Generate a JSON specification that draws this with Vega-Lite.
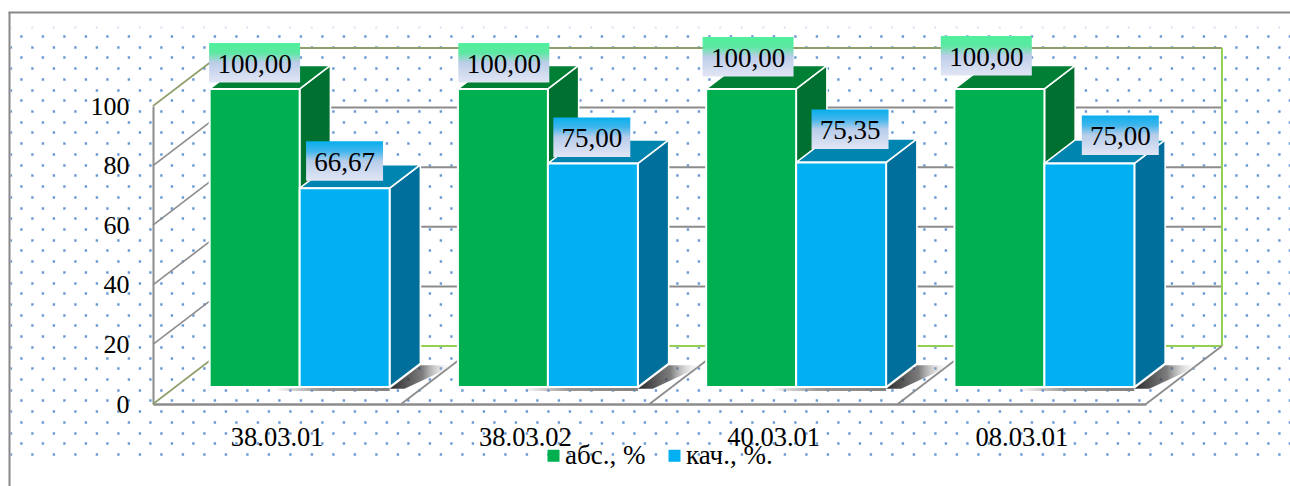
{
"$schema":"https://vega.github.io/schema/vega-lite/v6.json",
"width":1290,"height":486,"padding":0,"autosize":"none","background":"white",
"config":{"view":{"stroke":null},"font":"Liberation Serif"},
"datasets":{
"table":[
{"code":"38.03.01","series":"абс., %","value":100},{"code":"38.03.01","series":"кач., %.","value":66.67},
{"code":"38.03.02","series":"абс., %","value":100},{"code":"38.03.02","series":"кач., %.","value":75},
{"code":"40.03.01","series":"абс., %","value":100},{"code":"40.03.01","series":"кач., %.","value":75.35},
{"code":"08.03.01","series":"абс., %","value":100},{"code":"08.03.01","series":"кач., %.","value":75}],
"wall":[{"v":0},{"v":20},{"v":40},{"v":60},{"v":80},{"v":100}],
"frame":[{"f":0},{"f":1}]
},
"resolve":{"scale":{"x":"independent","y":"independent"}},
"layer":[
{"data":{"name":"frame"},"mark":{"type":"point","opacity":0},
 "encoding":{"x":{"datum":0,"type":"quantitative","scale":{"domain":[0,60],"range":[10,1290]},"axis":null},
 "y":{"field":"f","type":"quantitative","scale":{"domain":[41.98,-3.358]},"axis":{"orient":"left","domain":false,"ticks":false,"labels":false,"title":null,"grid":true,"gridColor":"#5b8ed0","gridOpacity":0.9,"gridWidth":2.4,"gridDash":[2.4,19.1],"gridDashOffset":11.8,"values":[0,2,4,6,8,10,12,14,16,18,20,22,24,26,28,30,32,34,36,38]}}}},
{"data":{"name":"frame"},"mark":{"type":"point","opacity":0},
 "encoding":{"x":{"datum":0,"type":"quantitative","scale":{"domain":[0,60],"range":[10,1290]},"axis":null},
 "y":{"field":"f","type":"quantitative","scale":{"domain":[41.98,-3.358]},"axis":{"orient":"left","domain":false,"ticks":false,"labels":false,"title":null,"grid":true,"gridColor":"#5b8ed0","gridOpacity":0.9,"gridWidth":2.4,"gridDash":[2.4,19.1],"gridDashOffset":0.8,"values":[1,3,5,7,9,11,13,15,17,19,21,23,25,27,29,31,33,35,37,39]}}}},
{"data":{"name":"frame"},"mark":{"type":"point","opacity":0},
 "encoding":{"x":{"datum":0,"type":"quantitative","scale":{"domain":[0,60],"range":[10,1290]},"axis":null},
 "y":{"field":"f","type":"quantitative","scale":{"domain":[41.98,-3.358]},"axis":{"orient":"left","domain":false,"ticks":false,"labels":false,"title":null,"grid":true,"gridColor":"#5b8ed0","gridOpacity":0.25,"gridWidth":2,"gridDash":[2,19.5],"gridDashOffset":0.8,"values":[-0.85]}}}},
{"data":{"name":"frame"},"mark":{"type":"point","opacity":0},
 "encoding":{"x":{"field":"f","type":"quantitative","scale":{"domain":[0,1],"range":[8,1290]},"axis":{"orient":"top","offset":-12,"grid":false,"ticks":false,"labels":false,"title":null,"domain":true,"domainColor":"#888888","domainWidth":2}},
 "y":{"field":"f","type":"quantitative","scale":{"domain":[0,1],"range":[486,12]},"axis":{"orient":"left","offset":-9,"grid":false,"ticks":false,"labels":false,"title":null,"domain":true,"domainColor":"#888888","domainWidth":2}}}},
{"layer":[
 {"data":{"name":"wall"},"transform":[{"calculate":"0.306","as":"X"},{"calculate":"4.306","as":"X2"},{"calculate":"datum.v+19.46","as":"Y"},{"calculate":"datum.v===0?'#92d050':datum.v===100?'#8f9f6a':'#8c8c8c'","as":"c"}],
  "mark":{"type":"rule","strokeWidth":2},"encoding":{"x2":{"field":"X2"},"y2":{"field":"Y"},"stroke":{"field":"c","type":"nominal","scale":null,"legend":null}}},
 {"data":{"name":"wall"},"transform":[{"calculate":"0","as":"X"},{"calculate":"0.306","as":"X2"},{"calculate":"datum.v","as":"Y"},{"calculate":"datum.v+19.46","as":"Y2"},{"calculate":"(datum.v===0||datum.v===100)?'#8f9f6a':'#8c8c8c'","as":"c"}],
  "mark":{"type":"rule","strokeWidth":1.6},"encoding":{"x2":{"field":"X2"},"y2":{"field":"Y2"},"stroke":{"field":"c","type":"nominal","scale":null,"legend":null}}},
 {"data":{"name":"wall"},"transform":[{"filter":"datum.v===0"},{"calculate":"4.306","as":"X"},{"calculate":"19.46","as":"Y"},{"calculate":"119.46","as":"Y2"}],
  "mark":{"type":"rule","strokeWidth":2,"color":"#92d050"},"encoding":{"y2":{"field":"Y2"}}},
 {"data":{"name":"table"},"transform":[{"filter":"datum.series==='абс., %'"},{"calculate":"indexof(['38.03.01','38.03.02','40.03.01','08.03.01'],datum.code)+1","as":"X"},{"calculate":"datum.X+0.306","as":"X2"},{"calculate":"0","as":"Y"},{"calculate":"19.46","as":"Y2"}],
  "mark":{"type":"rule","strokeWidth":1.8,"color":"#8c8c8c"},"encoding":{"x2":{"field":"X2"},"y2":{"field":"Y2"}}},
 {"data":{"name":"table"},"transform":[{"filter":"datum.series==='кач., %.'"},{"calculate":"indexof(['38.03.01','38.03.02','40.03.01','08.03.01'],datum.code)","as":"g"},{"calculate":"datum.g+0.138+0.3625-0.1+0.0903","as":"X"},{"calculate":"datum.g+0.138+0.725+0.0903","as":"X2"},{"calculate":"4.4","as":"Y"},{"calculate":"5.7","as":"Y2"}],
  "mark":{"type":"rect","fill":{"gradient":"linear","x1":0,"y1":0,"x2":1,"y2":0,"stops":[{"offset":0,"color":"rgba(130,130,130,0)"},{"offset":0.4,"color":"rgba(140,140,140,0.9)"},{"offset":1,"color":"#808080"}]}},"encoding":{"x2":{"field":"X2"},"y2":{"field":"Y2"}}},
 {"data":{"name":"table"},"transform":[{"filter":"datum.series==='кач., %.'"},{"calculate":"indexof(['38.03.01','38.03.02','40.03.01','08.03.01'],datum.code)","as":"g"},{"calculate":"[0,1]","as":"e"},{"flatten":["e"]},{"calculate":"datum.e?0.70:0.295","as":"d"},{"calculate":"datum.g+0.863+datum.d*0.306","as":"X"},{"calculate":"datum.X+(datum.e?0.14:0.06)","as":"X2"},{"calculate":"datum.d*19.46-0.6","as":"Y"}],
  "mark":{"type":"area","orient":"horizontal","fill":{"gradient":"linear","x1":0,"y1":0,"x2":1,"y2":0,"stops":[{"offset":0,"color":"rgba(30,30,30,0.95)"},{"offset":0.5,"color":"rgba(70,70,70,0.7)"},{"offset":1,"color":"rgba(255,255,255,0)"}]}},"encoding":{"x2":{"field":"X2"},"detail":{"field":"code"}}},
 {"data":{"name":"table"},"transform":[{"calculate":"indexof(['38.03.01','38.03.02','40.03.01','08.03.01'],datum.code)","as":"g"},{"calculate":"datum.series==='абс., %'?0:1","as":"s"},{"calculate":"[0,1]","as":"e"},{"flatten":["e"]},{"calculate":"datum.e?0.70:0.295","as":"d"},{"calculate":"datum.g+0.138+(datum.s+1)*0.3625+datum.d*0.306","as":"X"},{"calculate":"datum.d*19.46","as":"Y"},{"calculate":"datum.Y+datum.value","as":"Y2"},{"calculate":"datum.s?'#006f9c':'#007030'","as":"c"},{"calculate":"datum.code+datum.series","as":"k"}],
  "mark":{"type":"area","orient":"vertical","stroke":"white","strokeWidth":1.6},"encoding":{"y2":{"field":"Y2"},"detail":{"field":"k"},"fill":{"field":"c","type":"nominal","scale":null,"legend":null}}},
 {"data":{"name":"table"},"transform":[{"calculate":"indexof(['38.03.01','38.03.02','40.03.01','08.03.01'],datum.code)","as":"g"},{"calculate":"datum.series==='абс., %'?0:1","as":"s"},{"calculate":"[0,1]","as":"e"},{"flatten":["e"]},{"calculate":"datum.e?0.70:0.295","as":"d"},{"calculate":"datum.g+0.138+datum.s*0.3625+datum.d*0.306","as":"X"},{"calculate":"datum.X+0.3625","as":"X2"},{"calculate":"datum.d*19.46+datum.value","as":"Y"},{"calculate":"datum.s?'#0084b0':'#008034'","as":"c"},{"calculate":"datum.code+datum.series","as":"k"}],
  "mark":{"type":"area","orient":"horizontal","stroke":"white","strokeWidth":1.6},"encoding":{"x2":{"field":"X2"},"detail":{"field":"k"},"fill":{"field":"c","type":"nominal","scale":null,"legend":null}}},
 {"data":{"name":"table"},"transform":[{"calculate":"indexof(['38.03.01','38.03.02','40.03.01','08.03.01'],datum.code)","as":"g"},{"calculate":"datum.series==='абс., %'?0:1","as":"s"},{"calculate":"datum.g+0.138+datum.s*0.3625+0.0903","as":"X"},{"calculate":"datum.X+0.3625","as":"X2"},{"calculate":"5.7","as":"Y"},{"calculate":"5.7+datum.value","as":"Y2"}],
  "mark":{"type":"rect","stroke":"white","strokeWidth":2},
  "encoding":{"x2":{"field":"X2"},"y2":{"field":"Y2"},"color":{"field":"series","type":"nominal","scale":{"domain":["абс., %","кач., %."],"range":["#00b050","#00b0f0"]},
   "legend":{"orient":"none","legendX":540,"legendY":442,"direction":"horizontal","title":null,"padding":0,"symbolType":"square","symbolSize":144,"symbolStrokeWidth":0,"labelFont":"Liberation Serif","labelFontSize":27,"labelColor":"black","labelOffset":-2,"columnPadding":15,"labelLimit":200}}}},
 {"data":{"name":"table"},"transform":[{"filter":"datum.series==='абс., %'"},{"calculate":"indexof(['38.03.01','38.03.02','40.03.01','08.03.01'],datum.code)","as":"g"},{"calculate":"datum.g+0.135+0.0949+[-1,0,-4,-14][datum.g]/248.25","as":"X"},{"calculate":"datum.X+91/248.25","as":"X2"},{"calculate":"5.7+datum.value+[46,46,52,53][datum.g]/2.98","as":"Y"},{"calculate":"datum.Y-39.5/2.98","as":"Y2"}],
  "mark":{"type":"rect","fill":{"gradient":"linear","x1":0,"y1":0,"x2":0,"y2":1,"stops":[{"offset":0,"color":"#4ff09c"},{"offset":0.25,"color":"#5ce8a2"},{"offset":0.5,"color":"#bccde8"},{"offset":1,"color":"#e2e6f5"}]}},"encoding":{"x2":{"field":"X2"},"y2":{"field":"Y2"}}},
 {"data":{"name":"table"},"transform":[{"filter":"datum.series==='кач., %.'"},{"calculate":"indexof(['38.03.01','38.03.02','40.03.01','08.03.01'],datum.code)","as":"g"},{"calculate":"datum.g+0.135+0.3625+0.0949+[6,5,15,37][datum.g]/248.25","as":"X"},{"calculate":"datum.X+77/248.25","as":"X2"},{"calculate":"5.7+datum.value+[47,46,53,48][datum.g]/2.98","as":"Y"},{"calculate":"datum.Y-39.5/2.98","as":"Y2"}],
  "mark":{"type":"rect","fill":{"gradient":"linear","x1":0,"y1":0,"x2":0,"y2":1,"stops":[{"offset":0,"color":"#08aeee"},{"offset":0.25,"color":"#40b6ec"},{"offset":0.5,"color":"#b8cdea"},{"offset":1,"color":"#e2e6f5"}]}},"encoding":{"x2":{"field":"X2"},"y2":{"field":"Y2"}}},
 {"data":{"name":"table"},"transform":[{"calculate":"indexof(['38.03.01','38.03.02','40.03.01','08.03.01'],datum.code)","as":"g"},{"calculate":"datum.series==='абс., %'?0:1","as":"s"},{"calculate":"datum.g+0.135+datum.s*0.3625+0.0949+(datum.s?[6,5,15,37][datum.g]:[-1,0,-4,-14][datum.g])/248.25+(datum.s?38.5:45.5)/248.25","as":"X"},{"calculate":"5.7+datum.value+(datum.s?[47,46,53,48][datum.g]:[46,46,52,53][datum.g])/2.98-21.5/2.98","as":"Y"},{"calculate":"replace(format(datum.value,'.2f'),'.',',')","as":"label"}],
  "mark":{"type":"text","font":"Liberation Serif","fontSize":27,"color":"black","align":"center","baseline":"middle"},"encoding":{"text":{"field":"label","type":"nominal"}}}
 ],
 "encoding":{"x":{"field":"X","type":"quantitative","scale":{"domain":[-0.6163,4.5801]},"axis":null},"y":{"field":"Y","type":"quantitative","scale":{"domain":[-27.517,135.57]},"axis":null}}
},
{"data":{"name":"table"},"mark":{"type":"point","opacity":0},
 "encoding":{"x":{"field":"code","type":"nominal","sort":null,"scale":{"type":"band","range":[153,1146],"paddingInner":0,"paddingOuter":0},"axis":{"orient":"bottom","offset":-82,"title":null,"labelAngle":0,"ticks":false,"labelPadding":20,"labelFont":"Liberation Serif","labelFontSize":26.5,"labelColor":"black","domain":true,"domainColor":"#8c8c8c","domainWidth":2.4,"grid":false}},
 "y":{"field":"value","type":"quantitative","scale":{"domain":[0,100],"range":[404,106]},"axis":{"orient":"left","offset":-153,"title":null,"values":[0,20,40,60,80,100],"format":"d","ticks":false,"labelPadding":24,"labelFont":"Liberation Serif","labelFontSize":26,"labelColor":"black","domain":true,"domainColor":"#8c8c8c","domainWidth":2,"grid":false}}}}
]
}
